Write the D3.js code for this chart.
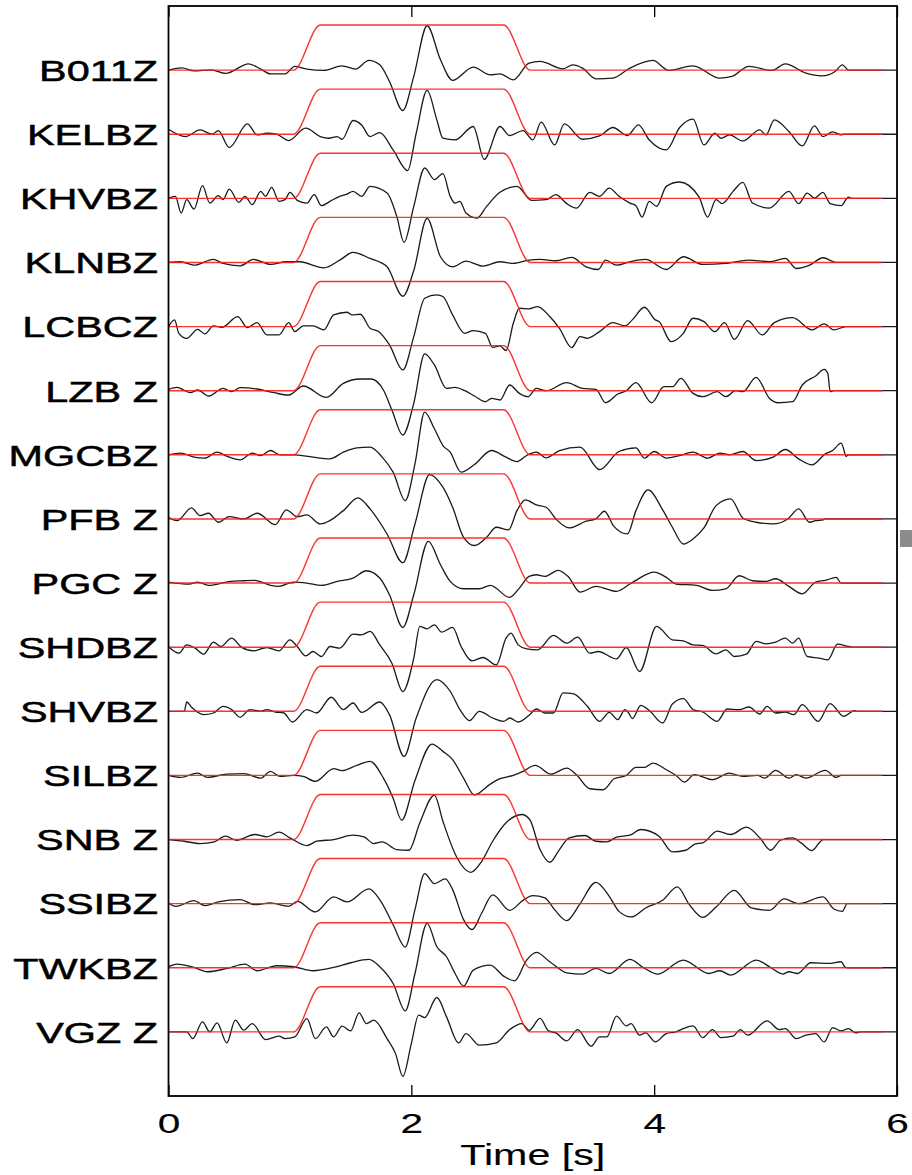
<!DOCTYPE html>
<html>
<head>
<meta charset="utf-8">
<script src="https://cdn.jsdelivr.net/npm/d3@7"></script>
<style>
  body { margin: 0; background: #fff; }
  .label { font-family: "Liberation Sans", Arial, sans-serif; fill: #000; stroke: #000; stroke-width: 0.5px; }
  .axislabel { stroke-width: 0.15px; }
</style>
</head>
<body>
<svg class="canvas"></svg>
<script>
// station names, top to bottom
var stations = ["B011Z", "KELBZ", "KHVBZ", "KLNBZ", "LCBCZ", "LZB Z", "MGCBZ", "PFB Z",
                "PGC Z", "SHDBZ", "SHVBZ", "SILBZ", "SNB Z", "SSIBZ", "TWKBZ", "VGZ Z"];

// traces: [time (s), amplitude] (amplitude ~ 64 per trace spacing)
var b011z = [[0,0],[0.11,2.3],[0.21,-0.7],[0.35,0.3],[0.47,-3.3],[0.66,6.3],[0.76,1],[0.84,-3.7],[0.96,-3.7],[1.04,3.7],[1.14,1],[1.28,-0.3],[1.43,4.3],[1.54,1],[1.65,9.7],[1.74,5.3],[1.82,-11.3],[1.93,-40.3],[2.02,-6.3],[2.13,44.3],[2.24,10.3],[2.34,-10.3],[2.51,3],[2.65,-4.7],[2.73,-3.7],[2.84,-9.7],[2.97,7],[3.06,8.7],[3.25,1.3],[3.33,5.3],[3.41,2],[3.52,-8.7],[3.66,-8],[3.80,2],[3.99,9.7],[4.12,-0.3],[4.32,4.3],[4.54,-8],[4.64,-6.3],[4.78,3.7],[4.97,-0.3],[5.08,6.3],[5.25,-3],[5.38,-5.7],[5.49,-1.3],[5.55,5.3],[5.60,0]];
var kelbz = [[0,5],[0.14,-2.3],[0.26,4.3],[0.36,0],[0.41,3.7],[0.50,-13.3],[0.65,10.3],[0.73,-0.7],[0.81,1],[0.89,0],[0.99,-6.3],[1.13,6],[1.25,-2.3],[1.32,-4],[1.39,-2.3],[1.43,-5],[1.52,13.7],[1.59,9.3],[1.66,-2.3],[1.74,1.7],[1.85,-15.7],[1.97,-36.3],[2.04,1],[2.13,43.7],[2.21,14.3],[2.26,-4],[2.36,-5.7],[2.51,7.7],[2.60,-25],[2.73,7.7],[2.81,-1.3],[2.92,3.7],[3.00,-5.7],[3.07,12],[3.18,-10.7],[3.26,10.3],[3.41,-5],[3.55,-1.7],[3.66,6.7],[3.78,-1.3],[3.87,9.3],[3.96,-5.7],[4.10,-15.7],[4.21,6.7],[4.32,15],[4.41,-10.7],[4.50,1],[4.55,-4],[4.62,-0.7],[4.73,-6.7],[4.87,4.3],[4.92,-0.7],[4.99,14.3],[5.11,2.7],[5.22,-11.7],[5.32,8.3],[5.39,-2.3],[5.47,2.3],[5.54,-0.7],[5.56,0]];
var khvbz = [[0,0],[0.057,2],[0.104,-14.7],[0.15,-1.3],[0.21,-10.7],[0.28,12.7],[0.34,-4.7],[0.41,2.7],[0.45,-1.3],[0.50,9.3],[0.58,-4],[0.63,2],[0.69,-6.3],[0.76,7],[0.80,2],[0.85,11],[0.91,-3],[0.96,-1.3],[1.00,6],[1.06,-2],[1.14,-4.7],[1.20,3.7],[1.26,-7.3],[1.33,-3],[1.41,2],[1.47,4.3],[1.52,7],[1.59,2],[1.66,12],[1.80,5.3],[1.88,-18],[1.94,-44],[2.02,-8],[2.11,30.3],[2.19,18.7],[2.26,24.7],[2.32,2],[2.36,-4.7],[2.40,-3],[2.45,-14.7],[2.54,-19.7],[2.62,-8],[2.73,6],[2.87,12],[2.99,-2],[3.11,-1.3],[3.19,3.7],[3.28,-5.3],[3.36,-9.7],[3.47,6],[3.55,2],[3.63,10.3],[3.71,2],[3.80,-4.7],[3.85,-7.3],[3.90,-18.7],[3.96,-3],[4.02,-8],[4.10,12],[4.21,16.3],[4.37,1.3],[4.44,-18.7],[4.51,-1.3],[4.56,-5.3],[4.65,7],[4.73,16],[4.81,-4.7],[4.95,-9.7],[5.11,7],[5.19,-5.3],[5.26,5.3],[5.32,0.3],[5.39,6],[5.45,-5.3],[5.54,-7.3],[5.60,1.3],[5.63,0]];
var klnbz = [[0,0],[0.10,0.7],[0.21,-2.7],[0.37,3],[0.45,-1],[0.59,-3.3],[0.70,3],[0.84,-2],[0.97,0.7],[1.08,0.7],[1.28,-5.3],[1.41,2.3],[1.52,10],[1.66,4],[1.80,-4.3],[1.93,-33.7],[2.02,-8],[2.13,44],[2.24,5.7],[2.34,-4.3],[2.45,1.3],[2.59,-3.7],[2.73,0.7],[2.84,-1],[2.97,2.3],[3.06,3],[3.19,1.7],[3.32,5],[3.44,-4.3],[3.54,-7],[3.60,2.3],[3.69,-2.7],[3.80,0.7],[3.93,3],[4.10,-7],[4.24,5.7],[4.40,-2],[4.59,-1],[4.78,2.3],[4.95,0.7],[5.08,4],[5.17,-6],[5.28,-2.7],[5.39,4.7],[5.50,0]];
var lcbcz = [[0,0],[0.05,6.7],[0.085,-6.7],[0.15,-11.7],[0.24,-2.7],[0.30,-7.3],[0.37,0.7],[0.44,-0.7],[0.57,10],[0.65,-1],[0.73,4],[0.81,-8.3],[0.91,-8.3],[0.99,4],[1.04,-5],[1.11,0.7],[1.19,0.7],[1.28,-3.3],[1.36,11.7],[1.47,14.3],[1.51,11.7],[1.58,12.3],[1.66,-1.7],[1.73,-5],[1.82,-18.3],[1.93,-43.3],[2.02,-10],[2.11,28.3],[2.21,31.7],[2.26,30],[2.34,11.7],[2.44,-6.7],[2.51,-4],[2.61,-6.7],[2.67,-20.7],[2.73,-19.3],[2.78,-24],[2.84,3.3],[2.89,18.3],[2.97,17.7],[3.04,20],[3.14,10],[3.22,-1.7],[3.32,-21],[3.39,-10],[3.45,-11.7],[3.55,-5],[3.66,4],[3.76,0.7],[3.82,6.7],[3.92,19.3],[4.01,6.7],[4.04,5],[4.14,-15],[4.24,-6.7],[4.32,8.3],[4.41,5],[4.50,-5],[4.58,4],[4.66,-12.7],[4.77,6],[4.89,-8.3],[4.99,4],[5.14,9],[5.30,-3.3],[5.40,2.7],[5.48,-3.3],[5.58,0]];
var lzbz = [[0,1.3],[0.07,3.3],[0.18,-2],[0.24,0.7],[0.33,-5.3],[0.45,2.3],[0.52,-1],[0.59,3],[0.73,1.7],[0.87,-2],[0.99,-4.3],[1.11,4.7],[1.30,-6.7],[1.44,7.3],[1.58,11.7],[1.67,11.7],[1.77,0.7],[1.84,-19.3],[1.93,-44.3],[2.02,-12.7],[2.11,36.7],[2.19,25.7],[2.29,2.3],[2.36,3.3],[2.44,0],[2.52,-5.3],[2.61,-11],[2.66,-7.7],[2.73,-9.3],[2.81,5.7],[2.89,-2.7],[2.96,-6],[3.03,2.3],[3.11,0],[3.28,8],[3.41,2.3],[3.52,1.3],[3.60,-12],[3.70,-3.3],[3.77,0],[3.85,8],[3.98,-12],[4.08,4],[4.15,4],[4.22,12.3],[4.32,-2.7],[4.40,-6],[4.52,-1],[4.59,-6],[4.67,0],[4.73,-1],[4.84,13.3],[4.95,-7.7],[5.02,-12],[5.14,-11],[5.22,5.7],[5.33,14.7],[5.40,21.3],[5.43,17.3],[5.45,-1],[5.48,0]];
var mgcbz = [[0,0],[0.10,1.7],[0.21,-2.3],[0.30,-3.3],[0.40,2.7],[0.48,-1.3],[0.59,-5],[0.69,1.7],[0.76,-0.7],[0.84,4.3],[0.92,0],[1.03,0],[1.19,-2.3],[1.33,-4],[1.44,2.7],[1.55,7],[1.66,7.7],[1.76,-2.3],[1.85,-17.3],[1.95,-45.7],[2.03,-9],[2.11,42.7],[2.19,26],[2.26,9.3],[2.32,2.7],[2.41,-17.3],[2.52,-9.7],[2.66,4.3],[2.78,-2.3],[2.87,-6.7],[2.95,-0.7],[3.03,2.7],[3.11,-3],[3.22,4.3],[3.39,7.7],[3.55,-14.7],[3.71,3.3],[3.85,7],[3.92,-3.3],[4.00,3.3],[4.10,-3.3],[4.21,-0.7],[4.32,2.7],[4.44,-3.3],[4.54,1.7],[4.62,0],[4.73,3.3],[4.84,-5.7],[4.98,-2.3],[5.08,5.3],[5.19,-4],[5.30,-10],[5.41,1],[5.47,4.3],[5.54,11.7],[5.56,6],[5.58,-1.7],[5.60,0]];
var pfbz = [[0,1.7],[0.07,-1.7],[0.19,11],[0.26,3.3],[0.33,5.7],[0.41,-3.3],[0.50,2.3],[0.62,0],[0.73,5.7],[0.88,-5.7],[0.97,9],[1.06,2.3],[1.14,4],[1.25,-5],[1.44,8.3],[1.56,21],[1.66,10],[1.80,-15],[1.93,-43.7],[2.03,-5],[2.15,44.3],[2.26,31.7],[2.34,11.7],[2.43,-18.3],[2.52,-26.5],[2.62,-18.3],[2.70,-8.3],[2.80,-11],[2.87,8.3],[2.94,19],[3.03,14],[3.11,11.7],[3.19,0],[3.30,-9],[3.44,-2.3],[3.52,0],[3.59,7.7],[3.67,-7.7],[3.78,-15],[3.85,8.3],[3.95,29],[4.07,9],[4.15,-8.3],[4.24,-25],[4.32,-20],[4.41,-9],[4.51,13.3],[4.63,20],[4.73,1],[4.84,-3.3],[4.98,-5],[5.10,0],[5.19,10],[5.28,-3.3],[5.33,-1.7],[5.39,-1],[5.41,0]];
var pgcz = [[0,1],[0.17,-1],[0.24,1],[0.33,-2.3],[0.51,1.7],[0.62,2.3],[0.71,2.7],[0.84,-2.3],[0.91,-3.3],[1.03,1],[1.14,0],[1.26,-2.3],[1.39,1.7],[1.52,5],[1.63,12.3],[1.74,5],[1.82,-11.7],[1.93,-44.3],[2.02,-11.7],[2.14,41.7],[2.24,18.3],[2.32,1.7],[2.43,-5.7],[2.56,-5.7],[2.65,-2.3],[2.81,-14.3],[2.89,-5],[2.97,6.7],[3.03,8.3],[3.10,6.7],[3.21,12.7],[3.29,6.7],[3.39,-9],[3.52,-3.3],[3.69,-8.3],[3.80,-1],[3.85,2.7],[4.00,11],[4.10,5.7],[4.18,-1],[4.35,-2.3],[4.48,-7.3],[4.59,-5.7],[4.70,7.3],[4.81,2.3],[4.92,1.7],[5.00,4.3],[5.11,-3.3],[5.22,-10.7],[5.33,1],[5.41,2.7],[5.50,5.7],[5.54,0]];
var shdbz = [[0,0.7],[0.085,-6],[0.15,2.3],[0.22,-1],[0.29,-7],[0.37,5],[0.43,0.7],[0.52,9],[0.60,0],[0.70,-3.7],[0.81,-0.3],[0.91,-3.7],[1.00,7.3],[1.06,0.7],[1.13,-8.7],[1.19,-4.3],[1.26,-9.3],[1.33,0.7],[1.41,-1],[1.52,13],[1.59,12.3],[1.66,15.7],[1.74,2.3],[1.84,-16],[1.93,-44.3],[2.02,-11],[2.07,20.7],[2.13,18.3],[2.19,22.3],[2.25,15],[2.34,19.7],[2.41,0.7],[2.50,-13.7],[2.59,-10.3],[2.70,-17.7],[2.78,9],[2.82,14],[2.88,2.3],[2.95,-1.7],[3.04,-2.7],[3.17,11.7],[3.28,4],[3.37,10],[3.47,-6],[3.54,-4.3],[3.69,-11.7],[3.77,-0.3],[3.88,-24.3],[4.02,20.7],[4.15,7.3],[4.24,6.3],[4.32,2.3],[4.40,1.7],[4.51,-6.7],[4.59,-2.7],[4.66,-9.3],[4.76,-7],[4.84,5.7],[4.92,3.3],[5.00,5],[5.08,9],[5.14,4],[5.19,9],[5.26,-9.3],[5.36,-11],[5.43,-12.7],[5.51,3],[5.60,0.7],[5.65,0]];
var shvbz = [[0,0],[0.13,0],[0.15,9.3],[0.19,4],[0.29,-3.3],[0.37,-1.7],[0.45,5],[0.52,1.7],[0.59,-6],[0.67,1.7],[0.76,0],[0.81,1.7],[0.88,-0.7],[0.95,-1.7],[1.02,-10.7],[1.14,1.7],[1.22,-1.7],[1.34,14],[1.44,1.7],[1.52,8.3],[1.59,-1],[1.74,9.3],[1.82,-3.3],[1.94,-45],[2.04,-6.7],[2.21,31.7],[2.32,20],[2.40,1.7],[2.48,-9.3],[2.56,0],[2.67,-6.7],[2.76,-10],[2.81,-6.7],[2.88,-10.7],[2.97,-4],[3.03,2.3],[3.10,-1.7],[3.17,-1.7],[3.25,18.3],[3.33,17.7],[3.45,5],[3.55,-10],[3.63,-1],[3.70,-8.3],[3.76,1.7],[3.79,-1.7],[3.82,-7.3],[3.89,6],[3.96,0.7],[4.07,-11.7],[4.15,7.3],[4.24,12.7],[4.32,1.7],[4.40,-0.7],[4.52,-10],[4.60,2.3],[4.70,1.7],[4.78,4.3],[4.87,-2.7],[4.93,5],[5.00,-1.7],[5.08,-0.7],[5.15,-3.3],[5.22,6.7],[5.35,-10],[5.45,7.7],[5.56,-5],[5.65,0.7],[5.67,0]];
var silbz = [[0,0],[0.10,-2],[0.24,2.3],[0.32,-2],[0.48,1.3],[0.62,1.7],[0.76,-2.7],[0.84,4],[0.92,-1],[1.03,0],[1.11,-1],[1.21,-6],[1.36,6.7],[1.43,4.7],[1.55,10],[1.66,14],[1.77,-2.7],[1.85,-22.7],[1.92,-44.7],[2.03,-5],[2.17,31.3],[2.26,24],[2.34,15.7],[2.43,-2.7],[2.52,-19.5],[2.65,-8.7],[2.73,-3.3],[2.84,0],[2.92,4],[3.02,10],[3.15,1.3],[3.28,7.3],[3.36,0.7],[3.47,-13.3],[3.58,-14.3],[3.67,-3.3],[3.77,0],[3.85,8],[3.92,8],[3.99,12.3],[4.10,5.7],[4.18,0],[4.25,-6.7],[4.33,0.7],[4.48,-4.3],[4.62,2.3],[4.73,-1],[4.85,0],[4.91,-2.7],[5.00,5],[5.11,-2.7],[5.17,0.7],[5.25,-2.7],[5.41,5],[5.50,-2],[5.54,0]];
var snbz = [[0,0],[0.13,-1.7],[0.26,-4],[0.37,-2.7],[0.47,3.3],[0.56,-0.7],[0.71,5],[0.81,2.7],[0.91,7.3],[1.00,1.7],[1.14,-6],[1.22,-1.7],[1.36,0],[1.52,4.3],[1.61,2.7],[1.69,-4],[1.76,-2.3],[1.88,-10],[1.98,-10.7],[2.07,16.7],[2.19,44.3],[2.26,18.3],[2.37,-16.7],[2.49,-32.7],[2.58,-21.7],[2.67,-1.7],[2.78,16.7],[2.91,25],[2.975,20],[3.06,-10],[3.14,-22.7],[3.22,-10],[3.30,1.7],[3.43,4],[3.52,-1.7],[3.61,-2.3],[3.69,2.3],[3.80,4.3],[3.89,10],[4.04,3.3],[4.15,-12.3],[4.26,-10.7],[4.34,-4.3],[4.40,-3.3],[4.52,8.3],[4.63,5],[4.76,12.3],[4.87,1.7],[4.96,-10.7],[5.04,-0.7],[5.14,1.7],[5.21,-3.3],[5.30,-11],[5.36,-3.3],[5.39,0]];
var ssibz = [[0,0.7],[0.06,-2.7],[0.21,3],[0.30,-2],[0.41,1.7],[0.59,4],[0.71,-1],[0.84,0.7],[0.99,-2.7],[1.06,2.3],[1.21,-8.3],[1.36,6.7],[1.47,1.7],[1.65,14.7],[1.74,4],[1.85,-21],[1.95,-43.3],[2.03,-6],[2.11,30],[2.19,20],[2.28,24.7],[2.34,14],[2.43,-16],[2.50,-26],[2.58,-9.3],[2.67,8.7],[2.81,-6.7],[2.92,3.3],[3.00,8],[3.10,5.7],[3.18,-6],[3.28,-17],[3.39,0],[3.52,21.3],[3.63,7.3],[3.71,-7.7],[3.81,-13.3],[3.93,-4.3],[4.07,3.3],[4.19,16.7],[4.29,-1],[4.40,-13.7],[4.51,-3.3],[4.66,13.3],[4.80,-4.3],[4.95,-6.7],[5.07,4.7],[5.19,0],[5.39,6.7],[5.48,-5.3],[5.55,-7.7],[5.59,0]];
var twkbz = [[0,1],[0.07,3.7],[0.21,0.3],[0.32,-4],[0.48,-0.7],[0.63,3.7],[0.73,-3],[0.89,2],[1.03,1],[1.19,-3],[1.36,0.3],[1.50,5],[1.65,8.3],[1.74,1],[1.85,-15.7],[1.95,-43],[2.03,-5.7],[2.13,44.3],[2.21,21],[2.29,11],[2.36,-5.7],[2.43,-18.3],[2.51,-2.3],[2.65,2.7],[2.76,-8.3],[2.85,-13],[2.95,7.7],[3.03,15.3],[3.14,6],[3.28,-5],[3.41,-6.3],[3.52,-0.7],[3.63,-5.7],[3.80,8.3],[3.91,0.3],[4.03,-6.3],[4.24,7.7],[4.45,-5.7],[4.54,-3],[4.63,-7.3],[4.84,7.7],[4.95,1],[5.06,-6.3],[5.11,-4],[5.18,-5.7],[5.29,5],[5.44,4.3],[5.54,6],[5.57,1],[5.59,0]];
var vgzz = [[0,0],[0.15,0],[0.20,-6.7],[0.28,10],[0.34,0],[0.40,9],[0.48,-11],[0.55,11.7],[0.62,1.7],[0.69,8.3],[0.80,-7.7],[0.91,-4.3],[0.96,-6.7],[1.04,-5],[1.14,13.3],[1.21,-6.7],[1.30,5],[1.36,-5],[1.43,5.7],[1.50,1],[1.57,19],[1.63,8.3],[1.69,11.7],[1.80,-6.7],[1.87,-21.7],[1.93,-44.3],[2.00,-11.7],[2.06,16.7],[2.11,14.3],[2.21,34.3],[2.29,15],[2.39,-11],[2.45,-1.7],[2.56,-13.3],[2.70,-11],[2.81,2.3],[2.91,8.3],[2.97,1.5],[3.06,13.5],[3.13,1],[3.19,-1],[3.28,-9],[3.37,2.3],[3.48,-14.3],[3.55,-5],[3.61,-5],[3.69,15.7],[3.77,6],[3.81,8.3],[3.88,-3.3],[3.93,-1],[4.01,-10],[4.10,-1.7],[4.18,0],[4.24,3.3],[4.32,6],[4.40,-5.7],[4.48,2.3],[4.55,-5.7],[4.65,-4.3],[4.71,2.3],[4.77,-3.3],[4.93,11],[5.03,2.3],[5.08,3.3],[5.17,-6.7],[5.25,-3.3],[5.33,-1.7],[5.40,-10],[5.47,4.3],[5.54,1],[5.60,3.3],[5.66,-1],[5.70,0]];

var traces = [b011z, kelbz, khvbz, klnbz, lcbcz, lzbz, mgcbz, pfbz,
              pgcz, shdbz, shvbz, silbz, snbz, ssibz, twkbz, vgzz];

// time window (red), same for every station
var taperTimes = [0, 1.03, 1.25, 2.76, 2.98, 5.88];
var taperAmps  = [0, 0, 45, 45, 0, 0];

var timeTicks = [0, 2, 4, 6];
var tMax = 6;

function display() {
  var width = 912;
  var height = 1175;

  var x = d3.scaleLinear().domain([0, tMax]).range([168.5, 897]);
  // trace k (1-based) sits at row k, frame spans rows 0..17
  var y = d3.scaleLinear().domain([0, stations.length + 1]).range([6, 1096]);
  var amp = d3.scaleLinear().domain([0, 64]).range([0, y(1) - y(0)]);

  var svg = d3.select(".canvas")
    .attr("width", width)
    .attr("height", height);

  svg.append("rect")
    .attr("width", width).attr("height", height)
    .attr("fill", "#fff");

  var line = function(row) {
    return d3.line()
      .x(function(d) { return x(d[0]); })
      .y(function(d) { return y(row) - amp(d[1]); })
      .curve(d3.curveMonotoneX);
  };

  var taper = taperTimes.map(function(t, i) { return [t, taperAmps[i]]; });

  var rows = svg.selectAll(".trace")
    .data(traces)
    .enter()
    .append("g")
    .attr("class", "trace");

  // seismogram, padded with zeros to the end of the window
  rows.append("path")
    .attr("d", function(d, i) {
      return line(i + 1)(d.concat([[tMax, 0]]));
    })
    .attr("fill", "none")
    .attr("stroke", "#1a1a1a")
    .attr("stroke-width", 1.3);

  rows.append("path")
    .attr("d", function(d, i) { return line(i + 1)(taper); })
    .attr("fill", "none")
    .attr("stroke", "#ff1a1a")
    .attr("stroke-opacity", 0.9)
    .attr("stroke-width", 1.4);

  // station labels
  svg.selectAll(".station")
    .data(stations)
    .enter()
    .append("text")
    .attr("class", "label station")
    .attr("transform", function(d, i) {
      return "translate(158," + y(i + 1) + ") scale(1.38,1)";
    })
    .attr("text-anchor", "end")
    .attr("dy", "0.36em")
    .style("font-size", "30px")
    .text(function(d) { return d; });

  // frame
  svg.append("rect")
    .attr("x", x(0)).attr("y", y(0))
    .attr("width", x(tMax) - x(0)).attr("height", y(stations.length + 1) - y(0))
    .attr("fill", "none")
    .attr("stroke", "#000")
    .attr("stroke-width", 1.8);

  var xAxis = d3.axisBottom(x)
    .tickValues(timeTicks)
    .tickFormat(d3.format("d"))
    .tickSizeInner(-11)
    .tickSizeOuter(0);
  var gx = svg.append("g")
    .attr("transform", "translate(0," + y(stations.length + 1) + ")")
    .call(xAxis);
  gx.select(".domain").remove();
  gx.selectAll(".tick line").attr("stroke", "#000").attr("stroke-width", 1.3);
  gx.selectAll(".tick text")
    .attr("class", "label axislabel")
    .attr("y", 37)
    .attr("dy", null)
    .attr("fill", null)
    .attr("transform", "scale(1.45,1)")
    .style("font-size", "28px");
  gx.attr("font-family", null).attr("font-size", null);

  var topAxis = d3.axisTop(x).tickValues(timeTicks).tickSizeInner(-11).tickSizeOuter(0).tickFormat("");
  var gt = svg.append("g")
    .attr("transform", "translate(0," + y(0) + ")")
    .call(topAxis);
  gt.select(".domain").remove();
  gt.selectAll(".tick line").attr("stroke", "#000").attr("stroke-width", 1.3);

  svg.append("text")
    .attr("class", "label axislabel")
    .attr("transform", "translate(" + ((x(0) + x(tMax)) / 2) + ",1165) scale(1.42,1)")
    .attr("text-anchor", "middle")
    .style("font-size", "29px")
    .text("Time [s]");

  // grey block at the right edge of the original picture
  svg.append("rect")
    .attr("x", 900).attr("y", 530)
    .attr("width", 12).attr("height", 17)
    .attr("fill", "#8c8c8c");
}

display();
</script>
</body>
</html>
